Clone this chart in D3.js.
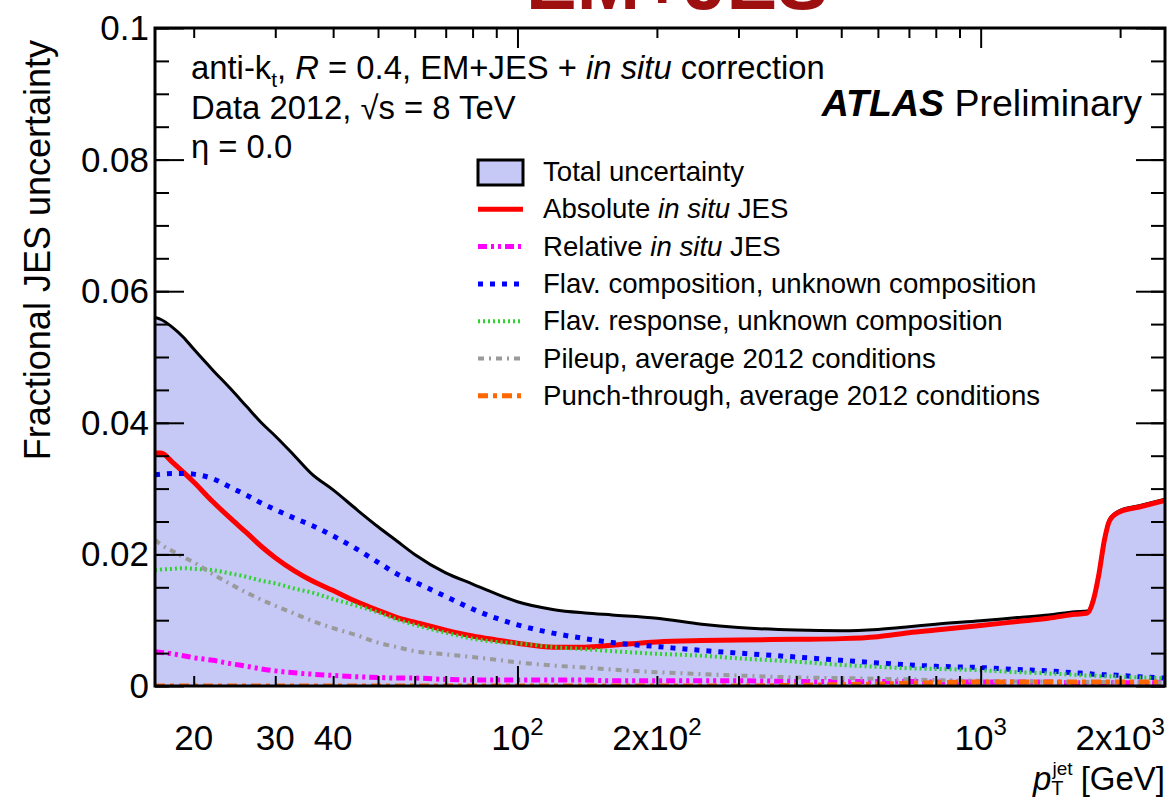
<!DOCTYPE html>
<html>
<head>
<meta charset="utf-8">
<script src="https://cdn.jsdelivr.net/npm/d3@7"></script>
<style>
  body { margin: 0; background: #fff; }
  svg { display: block; font-family: "Liberation Sans", Arial, Helvetica, sans-serif; }
</style>
</head>
<body>
<div id="chart"></div>
<script>
// pT grid [GeV] and the uncertainty components
const pT = [16.5, 17, 18, 19, 20, 22, 24, 26, 28, 30, 33, 36, 40, 45, 50, 55, 60, 70, 80, 90,
  100, 120, 140, 160, 200, 250, 300, 400, 500, 600, 700, 800, 1000, 1200, 1400, 1600,
  1700, 1750, 1800, 1850, 1900, 2000, 2200, 2500];

const totalUnc = [0.0560, 0.0557, 0.0545, 0.0530, 0.0512, 0.0480, 0.0452, 0.0425, 0.0400, 0.0380,
  0.0350, 0.0322, 0.0298, 0.0268, 0.0242, 0.0220, 0.0200, 0.0172, 0.0155, 0.0140,
  0.0128, 0.0116, 0.0111, 0.0108, 0.0103, 0.0094, 0.0089, 0.0085, 0.0084, 0.0086,
  0.0090, 0.0094, 0.0099, 0.0104, 0.0108, 0.0113,
  0.0114, 0.0132, 0.0172, 0.0224, 0.0254, 0.0267, 0.0274, 0.0284];

const absInSitu = [0.0354, 0.0354, 0.0340, 0.0325, 0.0310, 0.0280, 0.0255, 0.0233, 0.0212, 0.0195,
  0.0175, 0.0160, 0.0145, 0.0128, 0.0115, 0.0104, 0.0097, 0.0085, 0.0076, 0.0070,
  0.0065, 0.0059, 0.0059, 0.0062, 0.0067, 0.0069, 0.0070, 0.0071, 0.0072, 0.0075,
  0.0081, 0.0085, 0.0092, 0.0098, 0.0103, 0.0109,
  0.0111, 0.0130, 0.0170, 0.0222, 0.0252, 0.0265, 0.0272, 0.0282];

const relInSitu = [0.0052, 0.0051, 0.0049, 0.0046, 0.0043, 0.0039, 0.0034, 0.0030, 0.0026, 0.0023,
  0.0020, 0.0018, 0.0016, 0.0014, 0.0013, 0.0012, 0.0012, 0.0010, 0.0009, 0.0009,
  0.0009, 0.0009, 0.0009, 0.0008, 0.0008, 0.0008, 0.0008, 0.0007, 0.0007, 0.0007,
  0.0007, 0.0006, 0.0006, 0.0006, 0.0006, 0.0005,
  0.0005, 0.0005, 0.0005, 0.0005, 0.0005, 0.0005, 0.0005, 0.0005];

const flavComp = [0.0321, 0.0322, 0.0323, 0.0323, 0.0322, 0.0315, 0.0302, 0.0290, 0.0278, 0.0268,
  0.0255, 0.0244, 0.0228, 0.0208, 0.0188, 0.0170, 0.0158, 0.0136, 0.0117, 0.0103,
  0.0093, 0.0080, 0.0072, 0.0066, 0.0060, 0.0054, 0.0050, 0.0044, 0.0039, 0.0035,
  0.0032, 0.0030, 0.0028, 0.0025, 0.0023, 0.0020,
  0.0019, 0.0018, 0.0018, 0.0017, 0.0017, 0.0016, 0.0014, 0.0012];

const flavResp = [0.0176, 0.0177, 0.0178, 0.0179, 0.0178, 0.0176, 0.0171, 0.0166, 0.0160, 0.0156,
  0.0148, 0.0142, 0.0132, 0.0122, 0.0112, 0.0101, 0.0093, 0.0081, 0.0072, 0.0067,
  0.0065, 0.0059, 0.0056, 0.0053, 0.0049, 0.0046, 0.0042, 0.0037, 0.0032, 0.0029,
  0.0027, 0.0026, 0.0024, 0.0021, 0.0019, 0.0017,
  0.0016, 0.0016, 0.0015, 0.0015, 0.0015, 0.0014, 0.0013, 0.0012];

const pileup = [0.0222, 0.0215, 0.0205, 0.0196, 0.0188, 0.0170, 0.0155, 0.0142, 0.0131, 0.0122,
  0.0110, 0.0099, 0.0088, 0.0077, 0.0066, 0.0059, 0.0053, 0.0048, 0.0044, 0.0040,
  0.0036, 0.0031, 0.0028, 0.0025, 0.0021, 0.0018, 0.0016, 0.0013, 0.0012, 0.0011,
  0.0010, 0.0009, 0.0008, 0.0007, 0.0007, 0.0006,
  0.0006, 0.0006, 0.0006, 0.0006, 0.0005, 0.0005, 0.0005, 0.0005];

const punchThrough = [0, 0, 0, 0, 0, 0, 0, 0, 0, 0,
  0, 0, 0, 0, 0, 0, 0, 0, 0, 0,
  0, 0, 0, 0, 0, 0, 0, 0.0001, 0.0002, 0.0003,
  0.0004, 0.0005, 0.0006, 0.0006, 0.0006, 0.0006,
  0.0006, 0.0006, 0.0006, 0.0006, 0.0006, 0.0006, 0.0006, 0.0006];

const legendLabels = [
  [["Total uncertainty", false]],
  [["Absolute ", false], ["in situ", true], [" JES", false]],
  [["Relative ", false], ["in situ", true], [" JES", false]],
  [["Flav. composition, unknown composition", false]],
  [["Flav. response, unknown composition", false]],
  [["Pileup, average 2012 conditions", false]],
  [["Punch-through, average 2012 conditions", false]]
];

const xMinorTicks = [20, 30, 40, 50, 60, 70, 80, 90, 200, 300, 400, 500, 600, 700, 800, 900, 2000];
const xMajorTicks = [100, 1000];
const xTickLabels = [
  { v: 20, base: "20", exp: "" },
  { v: 30, base: "30", exp: "" },
  { v: 40, base: "40", exp: "" },
  { v: 100, base: "10", exp: "2" },
  { v: 200, base: "2x10", exp: "2" },
  { v: 1000, base: "10", exp: "3" },
  { v: 2000, base: "2x10", exp: "3" }
];
const yMajorTicks = [0, 0.02, 0.04, 0.06, 0.08, 0.1];
const yMinorTicks = d3.range(0, 0.1001, 0.005);
const yTickLabels = ["0", "0.02", "0.04", "0.06", "0.08", "0.1"];

const W = 1173, H = 802;
const margin = { top: 28, right: 8, bottom: 116, left: 155 };

const svg = d3.select("#chart").append("svg")
  .attr("width", W)
  .attr("height", H);

const x = d3.scaleLog().domain([16.5, 2500]).range([margin.left, W - margin.right]);
const y = d3.scaleLinear().domain([0, 0.1]).range([H - margin.bottom, margin.top]);

const pBottom = y.range()[0], pTop = y.range()[1], pLeft = x.range()[0], pRight = x.range()[1];

svg.append("clipPath").attr("id", "plot-clip")
  .append("rect")
  .attr("x", pLeft).attr("y", pTop)
  .attr("width", pRight - pLeft)
  .attr("height", pBottom - pTop);

// title partly cut off at the top
svg.append("text")
  .attr("x", 677).attr("y", 9)
  .attr("text-anchor", "middle")
  .style("font-size", "76px").style("font-weight", "bold")
  .attr("fill", "#9e1010")
  .text("EM+JES");

const plot = svg.append("g").attr("clip-path", "url(#plot-clip)");

const rows = pT.map((p, i) => ({
  p, total: totalUnc[i], abs: absInSitu[i], rel: relInSitu[i], comp: flavComp[i],
  resp: flavResp[i], pu: pileup[i], punch: punchThrough[i]
}));

plot.append("path")
  .datum(rows)
  .attr("fill", "#c6c9f6")
  .attr("d", d3.area().x(d => x(d.p)).y0(y(0)).y1(d => y(d.total)).curve(d3.curveMonotoneX));

const series = [
  { key: "total", color: "#000", width: 3, dash: null },
  { key: "abs", color: "#ff0000", width: 5, dash: null },
  { key: "rel", color: "#ff00ff", width: 5, dash: "9,4,3,4,3,4" },
  { key: "comp", color: "#0000ff", width: 5, dash: "5,7" },
  { key: "resp", color: "#2fd22f", width: 4, dash: "2,3" },
  { key: "pu", color: "#9a9a9a", width: 4, dash: "6,5,2,5" },
  { key: "punch", color: "#ff6600", width: 5, dash: "10,5,4,5" }
];

series.forEach(s => {
  plot.append("path")
    .datum(rows)
    .attr("fill", "none")
    .attr("stroke", s.color)
    .attr("stroke-width", s.width)
    .attr("stroke-dasharray", s.dash)
    .attr("d", d3.line().x(d => x(d.p)).y(d => y(d[s.key])).curve(d3.curveMonotoneX));
});

// axes, ROOT style: ticks pointing inward on all four sides
function axisStyle(g) {
  g.select(".domain").remove();
  g.selectAll("line").attr("stroke", "#000").attr("stroke-width", 2);
}
svg.append("g").attr("transform", `translate(0,${pBottom})`)
  .call(d3.axisBottom(x).tickValues(xMinorTicks).tickSize(-10).tickFormat("")).call(axisStyle);
svg.append("g").attr("transform", `translate(0,${pBottom})`)
  .call(d3.axisBottom(x).tickValues(xMajorTicks).tickSize(-20).tickFormat("")).call(axisStyle);
svg.append("g").attr("transform", `translate(0,${pTop})`)
  .call(d3.axisTop(x).tickValues(xMinorTicks).tickSize(-10).tickFormat("")).call(axisStyle);
svg.append("g").attr("transform", `translate(0,${pTop})`)
  .call(d3.axisTop(x).tickValues(xMajorTicks).tickSize(-20).tickFormat("")).call(axisStyle);
svg.append("g").attr("transform", `translate(${pLeft},0)`)
  .call(d3.axisLeft(y).tickValues(yMinorTicks).tickSize(-14).tickFormat("")).call(axisStyle);
svg.append("g").attr("transform", `translate(${pLeft},0)`)
  .call(d3.axisLeft(y).tickValues(yMajorTicks).tickSize(-29).tickFormat("")).call(axisStyle);
svg.append("g").attr("transform", `translate(${pRight},0)`)
  .call(d3.axisRight(y).tickValues(yMinorTicks).tickSize(-14).tickFormat("")).call(axisStyle);
svg.append("g").attr("transform", `translate(${pRight},0)`)
  .call(d3.axisRight(y).tickValues(yMajorTicks).tickSize(-29).tickFormat("")).call(axisStyle);

svg.append("rect")
  .attr("x", pLeft).attr("y", pTop)
  .attr("width", pRight - pLeft).attr("height", pBottom - pTop)
  .attr("fill", "none").attr("stroke", "#000").attr("stroke-width", 3);

// tick labels
svg.selectAll(".ylab").data(yMajorTicks).enter().append("text")
  .attr("x", pLeft - 6).attr("y", d => y(d) + 12)
  .attr("text-anchor", "end")
  .style("font-size", "35px")
  .text((d, i) => yTickLabels[i]);

const xl = svg.selectAll(".xlab").data(xTickLabels).enter().append("text")
  .attr("x", d => x(d.v)).attr("y", pBottom + 64)
  .attr("text-anchor", "middle")
  .style("font-size", "35px");
xl.append("tspan").text(d => d.base);
xl.append("tspan").attr("dy", -15).style("font-size", "24px").text(d => d.exp);

// axis titles
svg.append("text")
  .attr("transform", `translate(50,${pTop + 12}) rotate(-90)`)
  .attr("text-anchor", "end")
  .style("font-size", "36px")
  .text("Fractional JES uncertainty");

const xt = svg.append("text")
  .attr("x", pRight).attr("y", 790)
  .attr("text-anchor", "end")
  .style("font-size", "33px");
xt.append("tspan").style("font-style", "italic").text("p");
xt.append("tspan").attr("dy", 5).style("font-size", "20px").text("T");
xt.append("tspan").attr("dx", -11).attr("dy", -20).style("font-size", "19px").text("jet");
xt.append("tspan").attr("dx", 8).attr("dy", 15).text("[GeV]");

// labels in the plot
const t1 = svg.append("text").attr("x", 191).attr("y", 79).style("font-size", "32.8px");
t1.append("tspan").text("anti-k");
t1.append("tspan").attr("dy", 8).style("font-size", "21px").text("t");
t1.append("tspan").attr("dy", -8).text(", ");
t1.append("tspan").style("font-style", "italic").text("R");
t1.append("tspan").text(" = 0.4, EM+JES + ");
t1.append("tspan").style("font-style", "italic").text("in situ");
t1.append("tspan").text(" correction");

const t2 = svg.append("text").attr("x", 191).attr("y", 119).style("font-size", "32.8px");
t2.append("tspan").text("Data 2012, \u221As");
t2.append("tspan").text(" = 8 TeV");

svg.append("text").attr("x", 191).attr("y", 158).style("font-size", "32.8px").text("\u03B7 = 0.0");

const atlas = svg.append("text").attr("x", 1142).attr("y", 116)
  .attr("text-anchor", "end").style("font-size", "37.5px");
atlas.append("tspan").style("font-weight", "bold").style("font-style", "italic").text("ATLAS");
atlas.append("tspan").text(" Preliminary");

// legend
const legX0 = 478, legX1 = 523, legY0 = 172, legDy = 37.3;
const leg = svg.append("g");
legendLabels.forEach((parts, i) => {
  const cy = legY0 + i * legDy;
  const s = series[i];
  if (i === 0) {
    leg.append("rect")
      .attr("x", legX0).attr("y", cy - 12).attr("width", legX1 - legX0).attr("height", 25)
      .attr("fill", "#c6c9f6").attr("stroke", "#000").attr("stroke-width", 3);
  } else {
    leg.append("line")
      .attr("x1", legX0).attr("x2", legX1).attr("y1", cy).attr("y2", cy)
      .attr("stroke", s.color).attr("stroke-width", s.width)
      .attr("stroke-dasharray", s.dash);
  }
  const tx = leg.append("text").attr("x", 543).attr("y", cy + 9).style("font-size", "27.6px");
  parts.forEach(([str, it]) => {
    tx.append("tspan").style("font-style", it ? "italic" : "normal").text(str);
  });
});
</script>
</body>
</html>
